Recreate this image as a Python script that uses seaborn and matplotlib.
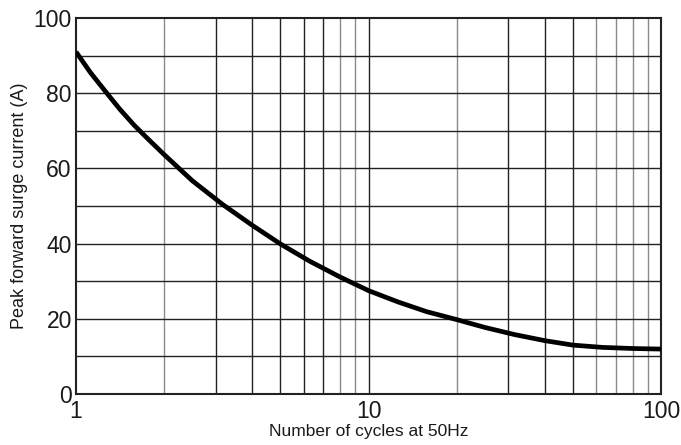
import matplotlib
matplotlib.use("Agg")
import matplotlib.pyplot as plt
import seaborn as sns
import pandas as pd

# Surge current rating versus number of 50 Hz cycles
cycles = [1, 1.12, 1.26, 1.41, 1.58, 1.78, 2, 2.5, 3.16, 4, 5, 6.3, 8, 10, 12.6, 15.8, 20, 25, 31.6, 40, 50, 63, 80, 100]
current = [91, 85.5, 80.5, 75.8, 71.5, 67.5, 63.7, 56.7, 50.5, 44.9, 39.9, 35.3, 31.1, 27.5, 24.5, 21.9, 19.8, 17.7, 15.8, 14.2, 13.0, 12.4, 12.1, 11.95]

x_ticks = [1, 10, 100]
x_tick_labels = ["1", "10", "100"]
y_ticks = [0, 20, 40, 60, 80, 100]
y_grid = [10, 20, 30, 40, 50, 60, 70, 80, 90]
x_grid_dark = [3, 4, 5, 6, 7, 10, 30, 40, 50]
x_grid_light = [2, 8, 9, 20, 60, 70, 80, 90]

df = pd.DataFrame({"cycles": cycles, "current": current})

sns.set_style("white")
plt.rcParams["font.family"] = ["Liberation Sans", "DejaVu Sans"]

fig = plt.figure(figsize=(6.81, 4.45), dpi=100)
ax = fig.add_axes([76 / 681, 51 / 445, 585 / 681, 376 / 445])

ax.set_xscale("log")
ax.set_xlim(1, 100)
ax.set_ylim(0, 100)

for gx in x_grid_dark:
    ax.axvline(gx, color="#222222", lw=1.0, zorder=1)
for gx in x_grid_light:
    ax.axvline(gx, color="#8a8a8a", lw=1.0, zorder=1)
for gy in y_grid:
    ax.axhline(gy, color="#222222", lw=1.0, zorder=1)

sns.lineplot(data=df, x="cycles", y="current", ax=ax, color="black", lw=3.4, zorder=3)
for ln in ax.get_lines():
    ln.set_solid_joinstyle("round")
    ln.set_solid_capstyle("butt")

ax.set_xticks(x_ticks)
ax.set_xticklabels(x_tick_labels)
ax.xaxis.set_minor_locator(matplotlib.ticker.NullLocator())
ax.set_yticks(y_ticks)
ax.tick_params(axis="both", length=0, labelsize=16.5, colors="#1a1a1a")
ax.tick_params(axis="x", pad=4)
ax.tick_params(axis="y", pad=3)

for s in ax.spines.values():
    s.set_color("#222222")
    s.set_linewidth(1.5)

ax.set_xlabel("Number of cycles at 50Hz", fontsize=12.5, labelpad=1, color="#1a1a1a")
ax.set_ylabel("Peak forward surge current (A)", fontsize=13, labelpad=4, color="#1a1a1a")

fig.savefig("out.png", dpi=100, facecolor="white")
